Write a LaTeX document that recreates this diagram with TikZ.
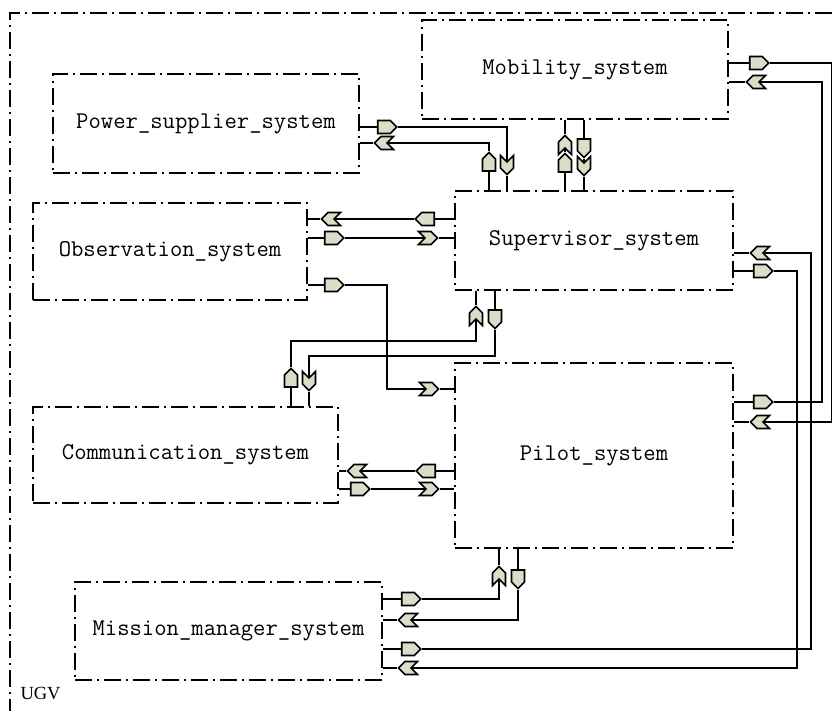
\documentclass[tikz,border=0pt]{standalone}
\usepackage{fontspec}
\setmainfont{Liberation Serif}
\usepackage{xcolor}
\usepackage{tikz}
\usetikzlibrary{shapes.symbols}

\definecolor{portfill}{RGB}{218,222,200}
\pgfdeclarelayer{bg}
\pgfsetlayers{bg,main}

\tikzset{
  dashdot/.style={line width=1.6pt, dash pattern=on 17pt off 5pt on 2pt off 5pt},
  block/.style={draw, rectangle, dashdot, inner sep=0pt, font=\ttfamily\fontsize{24}{28}\selectfont},
  wire/.style={line width=1.6pt, black},
  port/.style={signal, draw, fill=portfill, line width=1.7pt, inner sep=0pt, signal pointer angle=90},
  hport/.style={port, minimum width=19pt, minimum height=13pt},
  vport/.style={port, minimum width=13pt, minimum height=12pt},
  vchev/.style={port, minimum width=13pt, minimum height=6pt}
}

\begin{document}
\begin{tikzpicture}[x=1pt, y=-1pt]
    \useasboundingbox (0,0) rectangle (832,711);

    % UGV frame, runs off the page
    \draw[dashdot] (832,13) -- (10,13) -- (10,711);
    \node[font=\fontsize{18.5}{22}\selectfont, anchor=west] (ugv) at (17,694) {UGV};

    % Subsystems
    \node[block, minimum width=306, minimum height=99] (mb) at (575,69.5) {Mobility\_system};
    \node[block, minimum width=306, minimum height=99] (ps) at (206,123.5) {Power\_supplier\_system};
    \node[block, minimum width=278, minimum height=99] (sv) at (594,240.5) {Supervisor\_system};
    \node[block, minimum width=274, minimum height=97] (ob) at (170,251.5) {Observation\_system};
    \node[block, minimum width=305, minimum height=96] (cm) at (185.5,455) {Communication\_system};
    \node[block, minimum width=278, minimum height=185] (pl) at (594,455.5) {Pilot\_system};
    \node[block, minimum width=307, minimum height=98] (ms) at (228.5,631) {Mission\_manager\_system};

    % Ports: pentagon = out, chevron = in
    \node[hport, signal to=east] (psOut) at (384,127) {};
    \node[hport, signal to=west, signal from=east] (psIn) at (384,143) {};

    \node[hport, signal to=east] (mbOutE) at (756,63) {};
    \node[hport, signal to=west, signal from=east] (mbInW) at (756,82) {};
    \node[vchev, signal to=north, signal from=south] (mbInN) at (565,145) {};
    \node[vport, signal to=south] (mbOutS) at (584,145) {};

    \node[vport, signal to=north] (svOutN) at (489,165) {};
    \node[vchev, signal to=south, signal from=north] (svInN) at (507,165) {};
    \node[vport, signal to=north] (svOutN2) at (565,166) {};
    \node[vchev, signal to=south, signal from=north] (svInN2) at (584,166) {};
    \node[hport, signal to=west] (svOutW) at (428,219) {};
    \node[hport, signal to=east, signal from=west] (svInE) at (428,238) {};
    \node[hport, signal to=west, signal from=east] (svInW) at (760,253) {};
    \node[hport, signal to=east] (svOutE) at (760,271) {};
    \node[vchev, signal to=north, signal from=south] (svInB) at (476,316) {};
    \node[vport, signal to=south] (svOutB) at (495,316) {};

    \node[hport, signal to=west, signal from=east] (obInW) at (331,219) {};
    \node[hport, signal to=east] (obOutE) at (331,238) {};
    \node[hport, signal to=east] (obOutE2) at (331,285) {};

    \node[vport, signal to=north] (cmOutN) at (291,381) {};
    \node[vchev, signal to=south, signal from=north] (cmInS) at (309,381) {};
    \node[hport, signal to=west, signal from=east] (cmInW) at (357,471) {};
    \node[hport, signal to=east] (cmOutE) at (357,489) {};

    \node[hport, signal to=east, signal from=west] (plInE1) at (429,389) {};
    \node[hport, signal to=west] (plOutW) at (429,471) {};
    \node[hport, signal to=east, signal from=west] (plInE2) at (429,489) {};
    \node[hport, signal to=east] (plOutE) at (760,402) {};
    \node[hport, signal to=west, signal from=east] (plInW) at (760,422) {};
    \node[vchev, signal to=north, signal from=south] (plInB) at (499,576) {};
    \node[vport, signal to=south] (plOutB) at (518,576) {};

    \node[hport, signal to=east] (msOut1) at (408,599) {};
    \node[hport, signal to=west, signal from=east] (msIn1) at (408,620) {};
    \node[hport, signal to=east] (msOut2) at (408,649) {};
    \node[hport, signal to=west, signal from=east] (msIn2) at (408,668) {};

    \begin{pgfonlayer}{bg}
    % Stubs from block edge to port
    \foreach \p in {psOut,psIn} \draw[wire] (ps.east |- \p) -- (\p.west);
    \foreach \p in {mbOutE,mbInW} \draw[wire] (mb.east |- \p) -- (\p.west);
    \foreach \p in {mbInN,mbOutS} \draw[wire] (mb.south -| \p) -- (\p.north);
    \foreach \p in {svOutN,svInN,svOutN2,svInN2} \draw[wire] (sv.north -| \p) -- (\p.south);
    \foreach \p in {svOutW,svInE} \draw[wire] (sv.west |- \p) -- (\p.east);
    \foreach \p in {svInW,svOutE} \draw[wire] (sv.east |- \p) -- (\p.west);
    \foreach \p in {svInB,svOutB} \draw[wire] (sv.south -| \p) -- (\p.north);
    \foreach \p in {obInW,obOutE,obOutE2} \draw[wire] (ob.east |- \p) -- (\p.west);
    \foreach \p in {cmOutN,cmInS} \draw[wire] (cm.north -| \p) -- (\p.south);
    \foreach \p in {cmInW,cmOutE} \draw[wire] (cm.east |- \p) -- (\p.west);
    \foreach \p in {plInE1,plOutW,plInE2} \draw[wire] (pl.west |- \p) -- (\p.east);
    \foreach \p in {plOutE,plInW} \draw[wire] (pl.east |- \p) -- (\p.west);
    \foreach \p in {plInB,plOutB} \draw[wire] (pl.south -| \p) -- (\p.north);
    \foreach \p in {msOut1,msIn1,msOut2,msIn2} \draw[wire] (ms.east |- \p) -- (\p.west);

    % Links between ports
    \draw[wire] (psOut.east) -| (svInN.north);
    \draw[wire] (psIn.east) -| (svOutN.north);
    \draw[wire] (svOutN2.north) -- (mbInN.south);
    \draw[wire] (mbOutS.south) -- (svInN2.north);
    \draw[wire] (svOutW.west) -- (obInW.east);
    \draw[wire] (obOutE.east) -- (svInE.west);
    \draw[wire] (obOutE2.east) -- ++(42,0) |- (plInE1.west);
    \draw[wire] (svOutB.south) -- ++(0,26) -| (cmInS.north);
    \draw[wire] (cmOutN.north) -- ++(0,-26) -| (svInB.south);
    \draw[wire] (plOutW.west) -- (cmInW.east);
    \draw[wire] (cmOutE.east) -- (plInE2.west);
    \draw[wire] (mbOutE.east) -- ++(62,0) |- (plInW.east);
    \draw[wire] (plOutE.east) -- ++(48,0) |- (mbInW.east);
    \draw[wire] (msOut2.east) -- ++(389,0) |- (svInW.east);
    \draw[wire] (svOutE.east) -- ++(23,0) |- (msIn2.east);
    \draw[wire] (msOut1.east) -| (plInB.south);
    \draw[wire] (plOutB.south) |- (msIn1.east);
    \end{pgfonlayer}
\end{tikzpicture}
\end{document}
